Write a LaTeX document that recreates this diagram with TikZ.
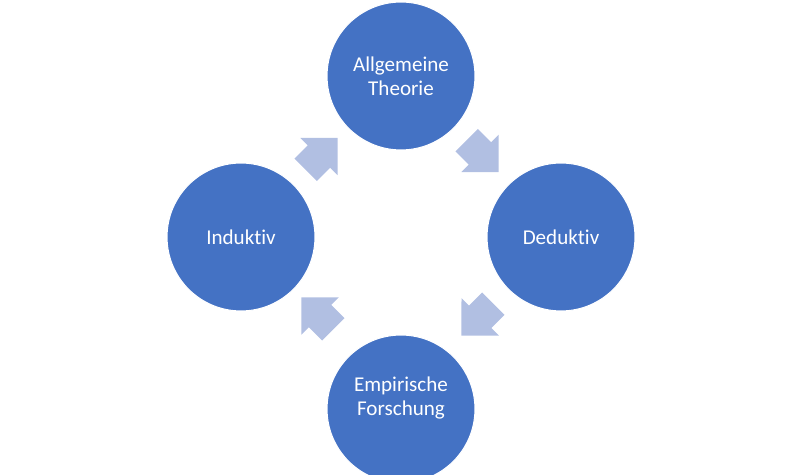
\documentclass[tikz,border=0pt]{standalone}
\usepackage{fontspec}
\setmainfont{Carlito}[Ligatures={NoCommon}]
\usetikzlibrary{shapes.arrows,calc}
\definecolor{cycleblue}{HTML}{4472C4}
\definecolor{cyclelight}{HTML}{B1BFE2}
\tikzset{
  % Phase circle: white text on blue fill
  cyclecircle/.style={circle, fill=cycleblue, draw=white, line width=0.6pt,
                      minimum size=2.96cm, inner sep=0pt, align=center,
                      text=white, font=\fontsize{12}{13.5}\selectfont},
  cycletext/.style={align=center, text=white, inner sep=0pt,
                    font=\fontsize{12}{13.5}\selectfont},
  % Block arrow between two phases
  cyclearrow/.style={single arrow, fill=cyclelight, draw=none,
                     minimum height=0.9cm, inner xsep=0pt, inner ysep=0.31cm,
                     single arrow head extend=0.21cm}
}
\begin{document}
\begin{tikzpicture}[x=0.02cm, y=-0.02cm]

% ============== Canvas ==============
\clip (0,0) rectangle (800,475);

% ============== Phases ==============
\node[cyclecircle] (theorie)   at (401,76)  {Allgemeine\\Theorie};
\node[cyclecircle] (deduktiv)  at (561,237) {Deduktiv};
\node[cyclecircle] (forschung) at (401,409) {};
\node[cycletext] at ($(forschung)+(0,-11)$) {Empirische\\Forschung};
\node[cyclecircle] (induktiv)  at (241,237) {Induktiv};

% ============== Cycle arrows ==============
\node[cyclearrow, rotate=45]   (a1) at ($(induktiv)!0.5!(theorie)+(-5,3)$) {};
\node[cyclearrow, rotate=-45]  (a2) at ($(theorie)!0.5!(deduktiv)+(-4,-6)$) {};
\node[cyclearrow, rotate=-135] (a3) at ($(deduktiv)!0.5!(forschung)+(2,-9)$) {};
\node[cyclearrow, rotate=135]  (a4) at ($(forschung)!0.5!(induktiv)+(2,-4)$) {};

\end{tikzpicture}
\end{document}
